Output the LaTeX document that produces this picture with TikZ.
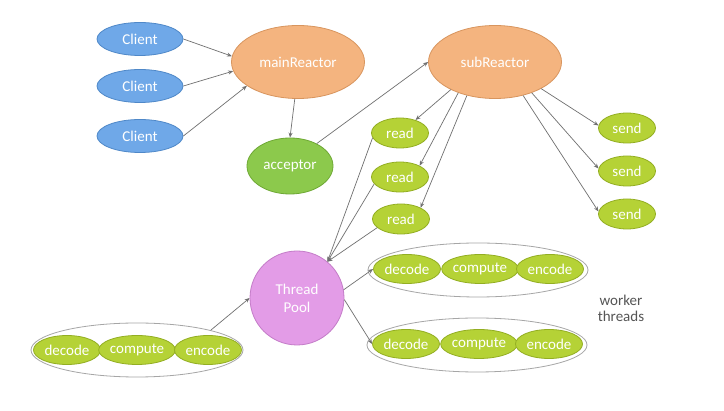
\documentclass[tikz,border=0pt]{standalone}
\usepackage{fontspec}
\setmainfont{Carlito}
\usetikzlibrary{shapes.geometric,arrows.meta}
\definecolor{cliF}{HTML}{6FA8E8}\definecolor{cliD}{HTML}{4F88C8}
\definecolor{oraF}{HTML}{F4B47F}\definecolor{oraD}{HTML}{D8955E}
\definecolor{accF}{HTML}{8CC94C}\definecolor{accD}{HTML}{6EA834}
\definecolor{ygF}{HTML}{B5D236}\definecolor{ygD}{HTML}{93AE22}
\definecolor{pinkF}{HTML}{E39CE7}\definecolor{pinkD}{HTML}{C47CC8}
\definecolor{lineC}{HTML}{707070}
\definecolor{txtC}{HTML}{555555}
\tikzset{
  ell/.style={ellipse, inner sep=0pt, line width=0.8pt, text=white, font=\fontsize{15}{17}\selectfont},
  client/.style={ell, fill=cliF, draw=cliD, minimum width=86pt, minimum height=33pt},
  reactor/.style={ell, fill=oraF, draw=oraD, minimum width=133pt, minimum height=73pt},
  acc/.style={ell, fill=accF, draw=accD, minimum width=86pt, minimum height=56pt},
  small/.style={ell, fill=ygF, draw=ygD, minimum width=57pt, minimum height=30pt},
  work/.style={ell, fill=ygF, draw=ygD, minimum width=67pt, minimum height=29pt},
  group/.style={ellipse, draw=gray!70, line width=0.8pt, inner sep=0pt, minimum width=220pt, minimum height=54pt},
  pool/.style={circle, fill=pinkF, draw=pinkD, line width=0.8pt, inner sep=0pt, minimum size=94pt, text=white, align=center, font=\fontsize{15}{18}\selectfont},
  conn/.style={draw=lineC, line width=0.7pt, -{Stealth[length=5pt,width=4pt]}},
}
\begin{document}
\begin{tikzpicture}[x=1pt,y=-1pt]
\useasboundingbox[fill=white] (0,0) rectangle (724,411);
% clients
\node[client] (c1) at (140,39) {Client};
\node[client] (c2) at (140,86) {Client};
\node[client] (c3) at (140,136) {Client};
\node[reactor] (main) at (298,62) {mainReactor};
\node[acc] (acc) at (290,166) {acceptor};
\node[reactor] (sub) at (495,62) {subReactor};
% reads
\node[small] (r1) at (400,133) {read};
\node[small] (r2) at (400,177) {read};
\node[small] (r3) at (401,219) {read};
% sends
\node[small] (s1) at (627,128) {send};
\node[small] (s2) at (627,171) {send};
\node[small] (s3) at (627,214) {send};
% thread pool
\node[pool] (tp) at (297,298) {Thread\\Pool};
% upper worker group
\node[group] (g1) at (478,270) {};
\node[work] (d1) at (407,269) {decode};
\node[work] (p1) at (480,269) {compute};
\node[work] (e1) at (550,269) {encode};
% lower worker group
\node[group] (g2) at (477,345) {};
\node[work] (d2) at (406,344) {decode};
\node[work] (p2) at (479,344) {compute};
\node[work] (e2) at (549,344) {encode};
% left group
\node[group, minimum width=212pt] (g3) at (137,350) {};
\node[work] (d3) at (67,350) {decode};
\node[work] (p3) at (137,350) {compute};
\node[work] (e3) at (208,350) {encode};
\node[text=txtC, align=center, font=\fontsize{15}{16}\selectfont] (wt) at (621,308) {worker\\threads};
% connectors
\draw[conn] (c1.east) -- (main.175);
\draw[conn] (c2.east) -- (main.188);
\draw[conn] (c3.east) -- (main.205);
\draw[conn] (main.265) -- (acc.north);
\draw[conn] (acc.40) -- (sub.west);
\draw[conn] (sub.212) -- (r1.40);
\draw[conn] (sub.220) -- (r2.30);
\draw[conn] (sub.230) -- (r3.30);
\draw[conn] (sub.-30) -- (s1.175);
\draw[conn] (sub.-40) -- (s2.175);
\draw[conn] (sub.-50) -- (s3.175);
\draw[conn] (r1.190) -- (tp.50);
\draw[conn] (r2.195) -- (tp.50);
\draw[conn] (r3.200) -- (tp.50);
\draw[conn] (tp.10) -- (d1.west);
\draw[conn] (tp.-2) -- (d2.west);
\draw[conn] (g3.15) -- (tp.180);
\end{tikzpicture}
\end{document}
